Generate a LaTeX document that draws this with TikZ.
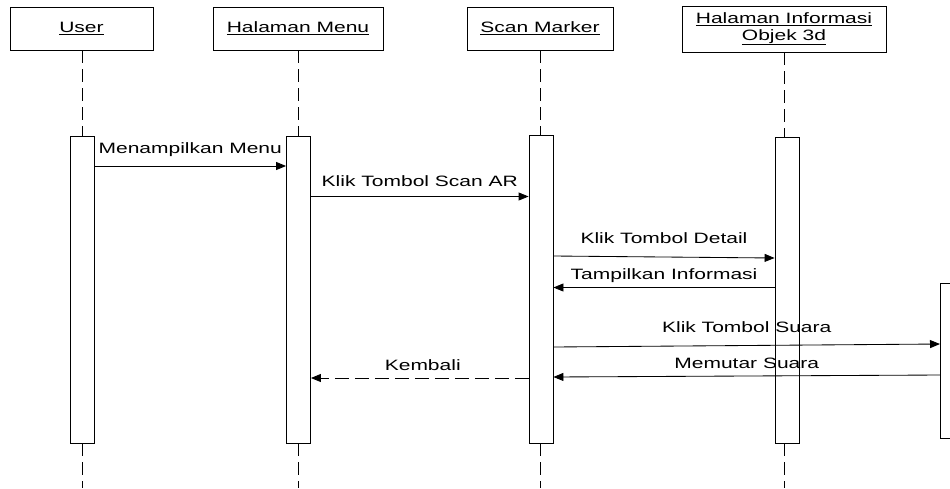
\documentclass[tikz,border=0pt]{standalone}
\usepackage{fontspec}
\setmainfont{Liberation Sans}[FakeStretch=1.4]
\usetikzlibrary{arrows.meta}

\begin{document}
\begin{tikzpicture}[x=1pt,y=-1pt,
    font=\fontsize{15}{16.5}\selectfont,
    line width=0.85pt,
    head/.style={draw, rectangle, inner sep=0pt, align=center, fill=white},
    actbar/.style={draw, rectangle, inner sep=0pt, minimum width=24pt, fill=white},
    life/.style={dash pattern=on 13pt off 6pt},
    msg/.style={-{Triangle[length=10pt,width=8pt]}},
    reply/.style={-{Triangle[length=10pt,width=8pt]}, dash pattern=on 14pt off 6pt},
    lbl/.style={midway, anchor=base, inner sep=0pt}]
  \useasboundingbox (0,0) rectangle (950,488);
  \clip (0,0) rectangle (950,488);

  % participant headers
  \node[head, minimum width=143pt, minimum height=43pt] (hUser) at (81.5,28.5) {\underline{User}};
  \node[head, minimum width=170pt, minimum height=43pt] (hMenu) at (298,28.5) {\underline{Halaman Menu}};
  \node[head, minimum width=146pt, minimum height=43pt] (hScan) at (540,28.5) {\underline{Scan Marker}};
  \node[head, minimum width=204pt, minimum height=46pt] (hInfo) at (784,29) {\underline{Halaman Informasi}\\\underline{Objek 3d}};

  % activation bars
  \node[actbar, minimum height=307pt] (aUser) at (82,289.5) {};
  \node[actbar, minimum height=307pt] (aMenu) at (298.5,289.5) {};
  \node[actbar, minimum height=308pt] (aScan) at (541,289) {};
  \node[actbar, minimum height=306pt] (aInfo) at (787,290) {};
  \node[actbar, minimum height=155pt, anchor=north west] (aSnd) at (940,283) {};

  % lifelines
  \foreach \p/\x in {User/82,Menu/298,Scan/540,Info/784}{
    \draw[life] (h\p.south -| \x,0) -- (a\p.north -| \x,0);
    \draw[life] (a\p.south -| \x,0) -- (\x,488);
  }

  % messages
  \draw[msg] (aUser.east |- 0,166) -- (aMenu.west |- 0,166)
    node[lbl, yshift=12.5pt] {Menampilkan Menu};
  \draw[msg] (aMenu.east |- 0,196.5) -- (aScan.west |- 0,196.5)
    node[lbl, yshift=10pt] {Klik Tombol Scan AR};
  \draw[msg] (aScan.east |- 0,256) -- (aInfo.west |- 0,258)
    node[lbl, yshift=14pt] {Klik Tombol Detail};
  \draw[msg] (aInfo.west |- 0,287.5) -- (aScan.east |- 0,287.5)
    node[lbl, yshift=8.5pt] {Tampilkan Informasi};
  \draw[msg] (aScan.east |- 0,347) -- (aSnd.west |- 0,344)
    node[lbl, yshift=13pt] {Klik Tombol Suara};
  \draw[msg] (aSnd.west |- 0,375) -- (aScan.east |- 0,377)
    node[lbl, yshift=8pt] {Memutar Suara};
  \draw[reply] (aScan.west |- 0,378) -- (aMenu.east |- 0,378)
    node[lbl, yshift=7.5pt, xshift=3pt] {Kembali};
\end{tikzpicture}
\end{document}
